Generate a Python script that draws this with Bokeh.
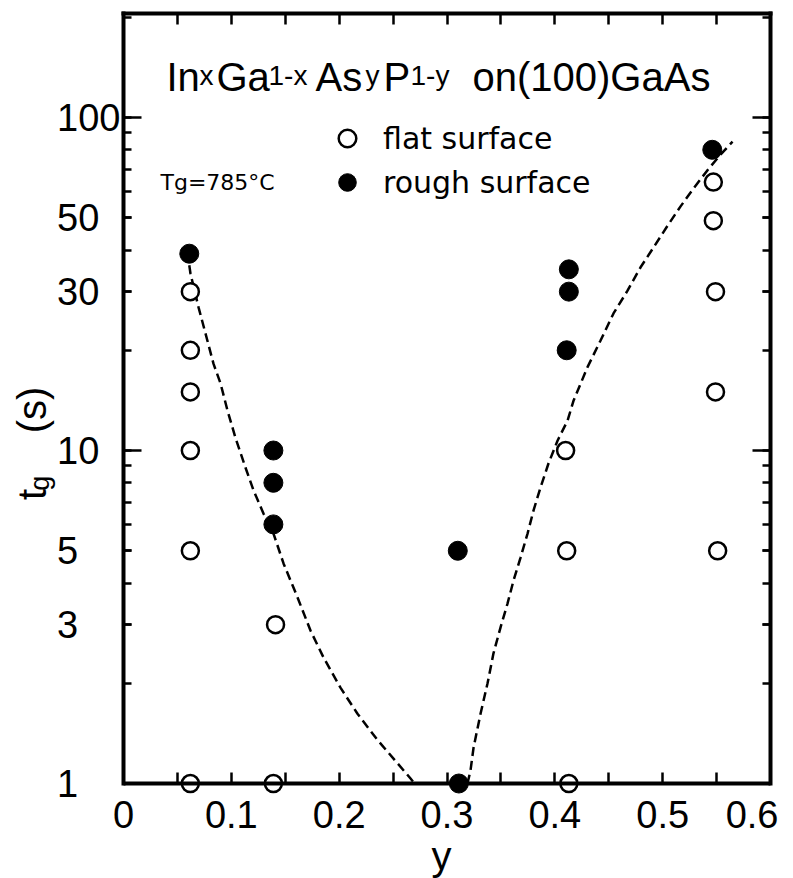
import math
from bokeh.plotting import figure
from bokeh.models import (LinearAxis, LogAxis, FixedTicker, Label, Legend,
                          LegendItem, Range1d)
from bokeh.embed import file_html
from bokeh.resources import INLINE

# ---------------- data ----------------
flat_y = [0.062, 0.062, 0.062, 0.062, 0.062, 0.062, 0.141, 0.139,
          0.410, 0.411, 0.413, 0.547, 0.547, 0.549, 0.549, 0.551]
flat_t = [30, 20, 15, 10, 5, 1, 3, 1, 10, 5, 1, 64, 49, 30, 15, 5]

rough_y = [0.061, 0.139, 0.139, 0.139, 0.310, 0.311, 0.413, 0.413, 0.411, 0.546]
rough_t = [39, 10, 8, 6, 5, 1, 35, 30, 20, 80]

left_fit_y = [0.061, 0.0621, 0.0696, 0.0760, 0.0835, 0.0900, 0.0964, 0.1039,
              0.1131, 0.1206, 0.1298, 0.1391, 0.1484, 0.1614, 0.1734, 0.1855,
              0.2012, 0.2170, 0.2356, 0.2541, 0.2662, 0.2700]
left_fit_t = [36, 34.0, 26.9, 22.5, 18.2, 15.9, 13.2, 10.9,
              8.89, 7.59, 6.47, 5.63, 4.58, 3.62, 2.88, 2.39,
              1.94, 1.62, 1.35, 1.15, 1.035, 1.0]

right_fit_y = [0.3190, 0.3218, 0.3246, 0.3311, 0.3376, 0.3431, 0.3496, 0.3561,
               0.3617, 0.3682, 0.3747, 0.3802, 0.3867, 0.3941, 0.4025, 0.4118,
               0.4173, 0.4303, 0.4424, 0.4544, 0.4674, 0.4795, 0.4915, 0.5045,
               0.5166, 0.5286, 0.5416, 0.5536, 0.5648]
right_fit_t = [1.0, 1.094, 1.28, 1.62, 2.0, 2.46, 2.94, 3.47,
               4.07, 4.77, 5.63, 6.60, 7.74, 9.14, 10.7, 12.3,
               14.1, 17.8, 21.4, 25.8, 30.2, 35.5, 40.7, 47.3,
               54.1, 61.2, 69.5, 77.3, 84.6]

x_ticks = [0, 0.1, 0.2, 0.3, 0.4, 0.5, 0.6]
x_tick_labels = ["0", "0.1", "0.2", "0.3", "0.4", "0.5", "0.6"]
x_minor = [0.05, 0.15, 0.25, 0.35, 0.45, 0.55]

y_ticks = [1, 3, 5, 10, 30, 50, 100]
y_tick_labels = ["1", "3", "5", "10", "30", "50", "100"]
y_minor = [2, 3, 4, 5, 6, 7, 8, 9, 20, 30, 40, 50, 60, 70, 80, 90, 200]
y_decades = [10, 100]

title_parts = ["In", "x", "Ga", "1-x", "As", "y", "P", "1-y", "on(100)GaAs"]
title_sub = [False, True, False, True, False, True, False, True, False]

x_title = "y"
y_title_t = "t"
y_title_sub = "g"
y_title_unit = "(s)"

# ---------------- geometry ----------------
X0, X1 = 0.0, 0.6
Y0, Y1 = 0.9204, 205.3
FW, FH = 647, 782
ML, MT, MB = 123, 13, 83
frame_left = ML
frame_top = MT
frame_bottom = MT + FH
ppd = FH / (math.log10(Y1) - math.log10(Y0))


def to_x(px):
    return X0 + (px - frame_left) / FW * (X1 - X0)


def to_y(py):
    return 10 ** (math.log10(Y1) - (py - frame_top) / ppd)


SANS = "Liberation Sans"
DJ = "DejaVu Sans"
NB = "\u00a0"
INK = "black"

p = figure(frame_width=FW, frame_height=FH, y_axis_type="log",
           x_range=Range1d(X0, X1), y_range=Range1d(Y0, Y1),
           x_axis_location=None, y_axis_location=None,
           min_border_left=ML, min_border_top=MT, min_border_right=8,
           min_border_bottom=MB, output_backend="svg", toolbar_location=None)
p.grid.visible = False
p.outline_line_color = None
p.background_fill_color = "white"
p.border_fill_color = "white"


def style(ax, tin):
    ax.axis_line_width = 4
    ax.axis_line_cap = "square"
    ax.axis_line_color = INK
    ax.major_tick_line_color = INK
    ax.minor_tick_line_color = INK
    ax.major_tick_in = tin
    ax.major_tick_out = 0
    ax.minor_tick_in = tin
    ax.minor_tick_out = 0
    ax.major_tick_line_width = 2.5
    ax.minor_tick_line_width = 2.5


def no_labels(ax):
    ax.major_label_text_font_size = "1px"
    ax.major_label_text_color = None
    ax.major_label_standoff = 0


def bare(ax):
    ax.axis_line_color = None
    ax.major_tick_line_color = None
    ax.minor_tick_line_color = None
    ax.major_tick_in = 0
    ax.major_tick_out = 0
    ax.minor_tick_in = 0
    ax.minor_tick_out = 0


# bottom axis line + ticks drawn at t = 1
xb = LinearAxis(ticker=FixedTicker(ticks=x_ticks, minor_ticks=x_minor),
                fixed_location=1)
style(xb, 11)
no_labels(xb)
p.add_layout(xb, "below")

# bottom tick labels and axis title
xlab = LinearAxis(ticker=FixedTicker(ticks=x_ticks),
                  major_label_overrides={t: l for t, l in zip(x_ticks, x_tick_labels)},
                  major_label_text_font=SANS, major_label_text_font_size="38px",
                  major_label_text_color=INK,
                  major_label_standoff=5, axis_label=x_title + NB,
                  axis_label_text_font=SANS, axis_label_text_font_size="40px",
                  axis_label_text_font_style="normal", axis_label_text_color=INK,
                  axis_label_standoff=3)
bare(xlab)
p.add_layout(xlab, "below")

xt = LinearAxis(ticker=FixedTicker(ticks=x_ticks, minor_ticks=x_minor))
style(xt, 11)
no_labels(xt)
p.add_layout(xt, "above")

FS = "\u2007"
yl = LogAxis(ticker=FixedTicker(ticks=y_ticks, minor_ticks=y_minor),
             bounds=(1, Y1),
             major_label_overrides={t: l + FS * (3 - len(l)) for t, l in zip(y_ticks, y_tick_labels)},
             major_label_text_font=SANS, major_label_text_font_size="38px",
             major_label_text_color=INK, major_label_standoff=3)
style(yl, 8)
p.add_layout(yl, "left")

# y-axis title: subscript "g" column (closer to the axis) and "t (s)" column;
# no-break spaces shift the centred titles along the axis
yg = LogAxis(ticker=FixedTicker(ticks=[]),
             axis_label=y_title_sub + NB * 21, axis_label_text_font=SANS,
             axis_label_text_font_size="27px", axis_label_text_font_style="normal",
             axis_label_text_color=INK, axis_label_standoff=0)
bare(yg)
p.add_layout(yg, "left")

yt = LogAxis(ticker=FixedTicker(ticks=[]),
             axis_label=y_title_t + NB * 5 + y_title_unit + NB * 7,
             axis_label_text_font=SANS,
             axis_label_text_font_size="40px", axis_label_text_font_style="normal",
             axis_label_text_color=INK, axis_label_standoff=-32)
bare(yt)
p.add_layout(yt, "left")

yr = LogAxis(ticker=FixedTicker(ticks=y_ticks, minor_ticks=y_minor),
             bounds=(1, Y1))
style(yr, 8)
no_labels(yr)
p.add_layout(yr, "right")

# longer decade ticks on both sides (half of each dash is clipped by the frame)
p.scatter([X0] * len(y_decades), y_decades, marker="dash", size=36,
          line_width=2.5, line_color=INK)
p.scatter([X1] * len(y_decades), y_decades, marker="dash", size=36,
          line_width=2.5, line_color=INK)

# fitted dashed curves
p.line(left_fit_y, left_fit_t, line_dash="9 5", line_width=2.5, line_color=INK)
p.line(right_fit_y, right_fit_t, line_dash="9 5", line_width=2.5, line_color=INK)

r_flat = p.scatter(flat_y, flat_t, marker="circle", size=17, fill_color="white",
                   line_color=INK, line_width=2.5)
r_rough = p.scatter(rough_y, rough_t, marker="circle", size=19, fill_color=INK,
                    line_color=INK, line_width=1)

legend = Legend(items=[LegendItem(label="flat surface", renderers=[r_flat]),
                       LegendItem(label="rough surface", renderers=[r_rough])],
                location=(202, 591), glyph_width=44, glyph_height=44,
                label_height=44, spacing=0, padding=0, margin=0,
                border_line_color=None, background_fill_alpha=0,
                label_standoff=14, label_text_font=DJ,
                label_text_font_size="30px", label_text_color=INK)
p.add_layout(legend)


def mid_from_baseline(baseline, size, ascent=0.905, descent=0.212):
    # text box centre for a wanted alphabetic baseline (page px)
    return baseline - (ascent - (ascent + descent) / 2) * size


# title made of pieces (subscripts smaller)
title_x = [166, 199, 216, 268, 315, 365, 383, 410, 472]
for txt, sub, px in zip(title_parts, title_sub, title_x):
    size = 28 if sub else 40
    base = 85 if sub else 90
    p.add_layout(Label(x=to_x(px), y=to_y(mid_from_baseline(base, size)), text=txt,
                       text_font=SANS, text_font_size=f"{size}px", text_color=INK,
                       text_align="left", text_baseline="middle"))

p.add_layout(Label(x=to_x(160), y=to_y(mid_from_baseline(190, 22, 0.928, 0.236)),
                   text="Tg=785°C", text_font=DJ, text_font_size="22px",
                   text_color=INK, text_align="left", text_baseline="middle"))

open("out.html", "w").write(file_html(p, INLINE))
